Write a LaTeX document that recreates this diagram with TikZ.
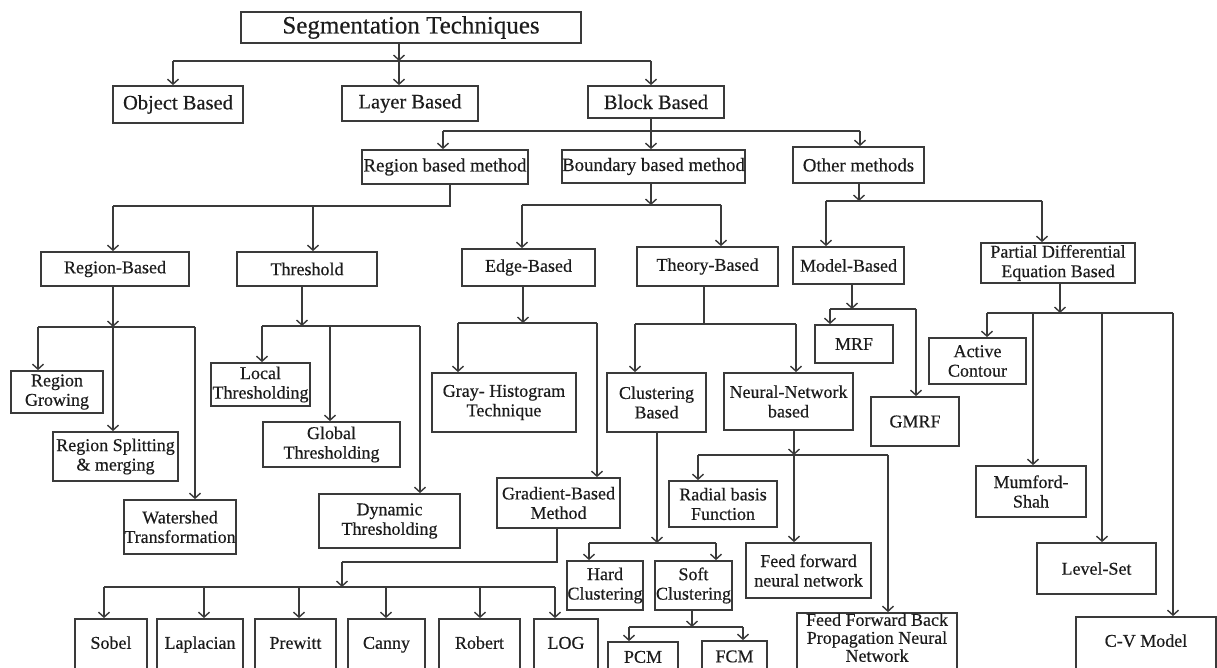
\documentclass[tikz,border=0pt]{standalone}
\usepackage{fontspec}
\setmainfont[FakeBold=0.4]{Liberation Serif}
\usetikzlibrary{arrows.meta}
\definecolor{ln}{HTML}{3A3A3A}
\definecolor{tx}{HTML}{1C1C1C}
\newcommand\fsz[1]{\fontsize{#1}{19.5}\selectfont}
\newcommand\up[2]{\raisebox{#1}[0pt][0pt]{#2}}
\tikzset{
  box/.style={draw=ln, line width=1.8pt, inner sep=0pt, align=center, text=tx, font=\fsz{18}},
  wire/.style={draw=ln, line width=1.4pt},
  arr/.style={wire, -{Straight Barb[length=5pt,width=11pt]}},
}
% #1 options, #2 name, #3 x1, #4 y1, #5 x2, #6 y2, #7 text
\newcommand\bx[7][]{\node[box,#1,minimum width={(#5-#3)*1pt},minimum height={(#6-#4)*1pt}] (#2) at ({(#3+#5)/2},{(#4+#6)/2}) {#7};}
\begin{document}
\begin{tikzpicture}[x=1pt,y=-1pt]
\useasboundingbox[fill=white] (0,0) rectangle (1217,668);
% ---------------- boxes ----------------
\bx[font=\fsz{25}]{seg}{241}{12}{581}{43}{Segmentation Techniques}
\bx[font=\fsz{20.5}]{obj}{113}{86}{243}{123}{Object Based}
\bx[font=\fsz{20.5}]{lay}{342}{86}{478}{121}{Layer Based}
\bx[font=\fsz{20.5}]{blk}{588}{86}{724}{118}{Block Based}
\bx[font=\fsz{18.8}]{rbm}{362}{150}{528}{184}{Region based method}
\bx[font=\fsz{18.8}]{bbm}{562}{150}{745}{183}{Boundary based method}
\bx[font=\fsz{18.8}]{oth}{793}{147}{924}{183}{Other methods}
\bx{rb}{41}{252}{189}{286}{Region-Based}
\bx{thr}{237}{252}{377}{286}{Threshold}
\bx{edg}{462}{249}{595}{286}{Edge-Based}
\bx{thy}{637}{247}{778}{286}{Theory-Based}
\bx{mdl}{793}{247}{904}{284}{Model-Based}
\bx{pde}{981}{243}{1135}{283}{Partial Differential\\Equation Based}
\bx{rg}{11}{371}{103}{413}{Region\\Growing}
\bx{rs}{53}{432}{178}{481}{Region Splitting\\\& merging}
\bx{ws}{124}{500}{236}{554}{Watershed\\Transformation}
\bx{lt}{211}{363}{310}{406}{Local\\Thresholding}
\bx{gt}{263}{422}{400}{467}{Global\\Thresholding}
\bx{dt}{319}{494}{460}{548}{Dynamic\\Thresholding}
\bx{gh}{432}{373}{576}{432}{Gray- Histogram\\Technique}
\bx{gb}{497}{478}{620}{528}{Gradient-Based\\Method}
\bx{sob}{75}{619}{147}{700}{\up{10.7pt}{Sobel}}
\bx{lap}{157}{619}{243}{700}{\up{10.7pt}{Laplacian}}
\bx{pre}{255}{619}{336}{700}{\up{10.7pt}{Prewitt}}
\bx{can}{348}{619}{425}{700}{\up{10.7pt}{Canny}}
\bx{rob}{439}{619}{520}{700}{\up{10.7pt}{Robert}}
\bx{log}{534}{619}{598}{700}{\up{10.7pt}{LOG}}
\bx{cb}{607}{373}{706}{432}{Clustering\\Based}
\bx{nn}{724}{373}{853}{430}{Neural-Network\\based}
\bx{hc}{567}{561}{643}{610}{Hard\\Clustering}
\bx{sc}{655}{561}{732}{610}{Soft\\Clustering}
\bx{pcm}{608}{642}{678}{700}{\up{8.2pt}{PCM}}
\bx{fcm}{702}{641}{767}{700}{\up{8.2pt}{FCM}}
\bx{rbf}{669}{481}{777}{527}{Radial basis\\Function}
\bx{ffn}{746}{543}{871}{598}{Feed forward\\neural network}
\bx{ffbp}{797}{613}{957}{700}{\up{12pt}{\fontsize{18}{18}\selectfont\begin{tabular}{@{}c@{}}Feed Forward Back\\Propagation Neural\\Network\end{tabular}}}
\bx{mrf}{815}{325}{893}{363}{MRF}
\bx{gmrf}{871}{397}{959}{446}{GMRF}
\bx{ac}{929}{338}{1026}{384}{Active\\Contour}
\bx{ms}{976}{466}{1086}{517}{Mumford-\\Shah}
\bx{ls}{1037}{543}{1156}{594}{Level-Set}
\bx{cv}{1076}{617}{1216}{700}{\up{11.7pt}{C-V Model}}
% ---------------- connectors ----------------
% Segmentation Techniques
\coordinate (a0) at (173,61); \coordinate (a1) at (399,61); \coordinate (a2) at (651,61);
\draw[arr] (seg.south -| a1) -- (a1);
\draw[wire] (a0) -- (a2);
\draw[arr] (a0) -- (a0 |- obj.north);
\draw[arr] (a1) -- (a1 |- lay.north);
\draw[arr] (a2) -- (a2 |- blk.north);
% Block Based
\coordinate (b0) at (443,131); \coordinate (b1) at (651,131); \coordinate (b2) at (860,131);
\draw[wire] (blk.south -| b1) -- (b1);
\draw[wire] (b0) -- (b2);
\draw[arr] (b0) -- (b0 |- rbm.north);
\draw[arr] (b1) -- (b1 |- bbm.north);
\draw[arr] (b2) -- (b2 |- oth.north);
% Region based method
\coordinate (c0) at (113,206); \coordinate (c1) at (313,206); \coordinate (c2) at (450,206);
\draw[wire] (rbm.south -| c2) -- (c2) -- (c0);
\draw[arr] (c0) -- (c0 |- rb.north);
\draw[arr] (c1) -- (c1 |- thr.north);
% Boundary based method
\coordinate (d0) at (522,205); \coordinate (d1) at (651,205); \coordinate (d2) at (721,205);
\draw[arr] (bbm.south -| d1) -- (d1);
\draw[wire] (d0) -- (d2);
\draw[arr] (d0) -- (d0 |- edg.north);
\draw[arr] (d2) -- (d2 |- thy.north);
% Other methods
\coordinate (e0) at (826,201); \coordinate (e1) at (859,201); \coordinate (e2) at (1042,201);
\draw[arr] (oth.south -| e1) -- (e1);
\draw[wire] (e0) -- (e2);
\draw[arr] (e0) -- (e0 |- mdl.north);
\draw[arr] (e2) -- (e2 |- pde.north);
% Region-Based
\coordinate (f0) at (38,327); \coordinate (f1) at (113,327); \coordinate (f2) at (195,327);
\draw[arr] (rb.south -| f1) -- (f1);
\draw[wire] (f0) -- (f2);
\draw[arr] (f0) -- (f0 |- rg.north);
\draw[arr] (f1) -- (f1 |- rs.north);
\draw[arr] (f2) -- (f2 |- ws.north);
% Threshold
\coordinate (g0) at (262,326); \coordinate (gm) at (302,326); \coordinate (g1) at (330,326); \coordinate (g2) at (420,326);
\draw[arr] (thr.south -| gm) -- (gm);
\draw[wire] (g0) -- (g2);
\draw[arr] (g0) -- (g0 |- lt.north);
\draw[arr] (g1) -- (g1 |- gt.north);
\draw[arr] (g2) -- (g2 |- dt.north);
% Edge-Based
\coordinate (h0) at (458,323); \coordinate (hm) at (523,323); \coordinate (h1) at (597,323);
\draw[arr] (edg.south -| hm) -- (hm);
\draw[wire] (h0) -- (h1);
\draw[arr] (h0) -- (h0 |- gh.north);
\draw[arr] (h1) -- (h1 |- gb.north);
% Theory-Based
\coordinate (i0) at (635,324); \coordinate (im) at (704,324); \coordinate (i1) at (796,324);
\draw[wire] (thy.south -| im) -- (im);
\draw[wire] (i0) -- (i1);
\draw[arr] (i0) -- (i0 |- cb.north);
\draw[arr] (i1) -- (i1 |- nn.north);
% Model-Based
\coordinate (k0) at (830,309); \coordinate (km) at (852,309); \coordinate (k1) at (916,309);
\draw[arr] (mdl.south -| km) -- (km);
\draw[wire] (k0) -- (k1);
\draw[arr] (k0) -- (k0 |- mrf.north);
\draw[arr] (k1) -- (k1 |- gmrf.north);
% PDE
\coordinate (l0) at (987,313); \coordinate (lm) at (1060,313); \coordinate (l1) at (1033,313);
\coordinate (l2) at (1102,313); \coordinate (l3) at (1173,313);
\draw[arr] (pde.south -| lm) -- (lm);
\draw[wire] (l0) -- (l3);
\draw[arr] (l0) -- (l0 |- ac.north);
\draw[arr] (l1) -- (l1 |- ms.north);
\draw[arr] (l2) -- (l2 |- ls.north);
\draw[arr] (l3) -- (l3 |- cv.north);
% Gradient-Based
\coordinate (m0) at (557,562); \coordinate (m1) at (342,562); \coordinate (mj) at (342,587);
\coordinate (n0) at (104,587); \coordinate (n1) at (204,587); \coordinate (n2) at (299,587);
\coordinate (n3) at (386,587); \coordinate (n4) at (480,587); \coordinate (n5) at (555,587);
\draw[wire] (gb.south -| m0) -- (m0) -- (m1);
\draw[arr] (m1) -- (mj);
\draw[wire] (n0) -- (n5);
\draw[arr] (n0) -- (n0 |- sob.north);
\draw[arr] (n1) -- (n1 |- lap.north);
\draw[arr] (n2) -- (n2 |- pre.north);
\draw[arr] (n3) -- (n3 |- can.north);
\draw[arr] (n4) -- (n4 |- rob.north);
\draw[arr] (n5) -- (n5 |- log.north);
% Clustering Based
\coordinate (o0) at (589,543); \coordinate (om) at (657,543); \coordinate (o1) at (716,543);
\draw[arr] (cb.south -| om) -- (om);
\draw[wire] (o0) -- (o1);
\draw[arr] (o0) -- (o0 |- hc.north);
\draw[arr] (o1) -- (o1 |- sc.north);
% Soft Clustering
\coordinate (p0) at (629,627); \coordinate (pm) at (692,627); \coordinate (p1) at (743,627);
\draw[arr] (sc.south -| pm) -- (pm);
\draw[wire] (p0) -- (p1);
\draw[arr] (p0) -- (p0 |- pcm.north);
\draw[arr] (p1) -- (p1 |- fcm.north);
% Neural-Network based
\coordinate (q0) at (698,455); \coordinate (q1) at (794,455); \coordinate (q2) at (888,455);
\draw[arr] (nn.south -| q1) -- (q1);
\draw[wire] (q0) -- (q2);
\draw[arr] (q0) -- (q0 |- rbf.north);
\draw[arr] (q1) -- (q1 |- ffn.north);
\draw[arr] (q2) -- (q2 |- ffbp.north);
\end{tikzpicture}
\end{document}
